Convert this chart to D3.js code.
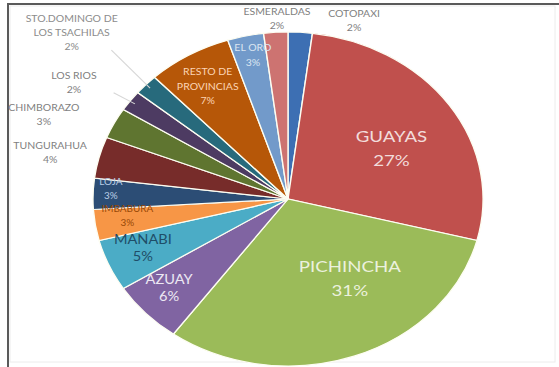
<!DOCTYPE html>
<html>
<head>
<meta charset="utf-8">
<script src="https://cdn.jsdelivr.net/npm/d3@7"></script>
<style>
  html, body { margin: 0; padding: 0; background: #ffffff; }
  svg { display: block; }
  text { font-family: Lato, "Noto Sans", sans-serif; }
</style>
</head>
<body>
<svg id="chart" width="559" height="367"></svg>
<script>
// Provinces, clockwise from twelve o'clock
const categories = [
  "COTOPAXI", "GUAYAS", "PICHINCHA", "AZUAY", "MANABI", "IMBABURA", "LOJA",
  "TUNGURAHUA", "CHIMBORAZO", "LOS RIOS", "STO.DOMINGO DE\nLOS TSACHILAS",
  "RESTO DE\nPROVINCIAS", "EL ORO", "ESMERALDAS"
];
// Share of the total, in percent
const values = [2, 27, 31, 6, 5, 3, 3, 4, 3, 2, 2, 7, 3, 2];

const sliceColors = [
  "#3d6fb3", "#c0504d", "#9bbb59", "#8064a2", "#4bacc6", "#f79646", "#2c4d75",
  "#772c2a", "#5f7530", "#4d3b62", "#276a7c", "#b65708", "#729aca", "#cd7371"
];
const labelColors = [
  "#7f7f7f", "#f2dcdb", "#ebf1de", "#ece8f3", "#1f4e68", "#974806", "#b9cde5",
  "#7f7f7f", "#7f7f7f", "#7f7f7f", "#8c8c8c", "#fcd5b5", "#dbe5f1", "#7f7f7f"
];
// Label placement: radius as a fraction of the pie radius, angle nudge in degrees,
// font size, and whether a leader line joins the label to its slice
const labelRadius = [1.12, 0.61, 0.57, 0.81, 0.80, 0.83, 0.91, 1.25, 1.35, 1.30, 1.49, 0.79, 0.88, 1.08];
const labelNudge  = [14, 4.6, -14, 2, 1.8, 2, 2, -1.7, -5, -3.6, -1.3, -0.8, 0.8, 0.6];
const labelSize   = [9, 16, 16, 12.5, 12.5, 8.5, 8.5, 9, 9, 9, 9, 9, 9, 9];
const leader      = [false, false, false, false, false, false, false, false, false, true, true, false, false, false];

const svg = d3.select("#chart");
const W = 559, H = 367;

// frame
svg.append("rect").attr("x", 10).attr("y", 6).attr("width", 545).attr("height", 356)
  .attr("fill", "none").attr("stroke", "#ececec").attr("stroke-width", 1);
svg.append("line").attr("x1", 8).attr("x2", W).attr("y1", 4).attr("y2", 4)
  .attr("stroke", "#5a5a5a").attr("stroke-width", 2);
svg.append("line").attr("x1", 8).attr("x2", 8).attr("y1", 3).attr("y2", H)
  .attr("stroke", "#5a5a5a").attr("stroke-width", 2);

const cx = 288, cy = 199, r = 167, sx = 1.168;
const g = svg.append("g").attr("transform", `translate(${cx},${cy}) scale(${sx},1)`);

const data = categories.map((c, i) => ({ name: c, value: values[i], i }));
const pie = d3.pie().sort(null).value(d => d.value);
const arcs = pie(data);
const arc = d3.arc().innerRadius(0).outerRadius(r);

g.selectAll("path.slice").data(arcs).join("path")
  .attr("class", "slice")
  .attr("d", arc)
  .attr("fill", d => sliceColors[d.data.i])
  .attr("stroke", "#fdfdf2")
  .attr("stroke-width", 1.2);

const polar = (ang, rad) => [rad * Math.sin(ang), -rad * Math.cos(ang)];

// leader lines
arcs.forEach(d => {
  const i = d.data.i;
  if (!leader[i]) return;
  const mid = (d.startAngle + d.endAngle) / 2;
  const a = mid + labelNudge[i] * Math.PI / 180;
  const nLines = d.data.name.split("\n").length + 1;
  const lh = labelSize[i] * 1.6;
  const [lx, ly] = polar(a, labelRadius[i] * r);
  const [ex, ey] = polar(mid, r * 0.97);
  const sy = ly + (nLines / 2) * lh - lh * 0.3;
  g.append("line")
    .attr("x1", lx + (leader[i] ? 34 : 0)).attr("y1", sy)
    .attr("x2", ex).attr("y2", ey)
    .attr("stroke", "#d6d6d6").attr("stroke-width", 0.9);
});

// data labels
arcs.forEach(d => {
  const i = d.data.i;
  const mid = (d.startAngle + d.endAngle) / 2 + labelNudge[i] * Math.PI / 180;
  const [x, y] = polar(mid, labelRadius[i] * r);
  const lines = d.data.name.split("\n").concat([d3.format(".0%")(d.data.value / 100)]);
  const fs = labelSize[i];
  const lh = fs >= 16 ? fs * 1.5 : fs >= 12 ? fs * 1.35 : fs * 1.6;
  const t = g.append("text")
    .attr("text-anchor", "middle")
    .attr("font-size", fs)
    .attr("fill", labelColors[i]);
  lines.forEach((ln, k) => {
    t.append("tspan")
      .attr("x", x)
      .attr("y", y + (k - (lines.length - 1) / 2) * lh)
      .attr("dy", "0.35em")
      .text(ln);
  });
});
</script>
</body>
</html>
